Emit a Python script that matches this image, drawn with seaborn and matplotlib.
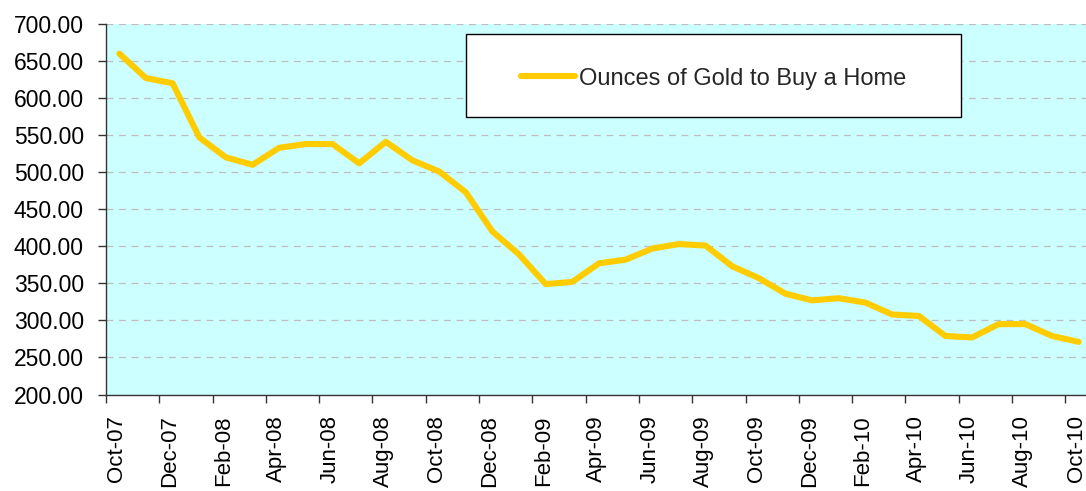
import matplotlib
matplotlib.use("Agg")
import matplotlib.pyplot as plt
import matplotlib.transforms as mtransforms
import seaborn as sns
import pandas as pd
import numpy as np
from matplotlib.patches import Rectangle
from matplotlib.ticker import FixedLocator, FormatStrFormatter

months = ["Oct-07", "Nov-07", "Dec-07", "Jan-08", "Feb-08", "Mar-08", "Apr-08", "May-08",
          "Jun-08", "Jul-08", "Aug-08", "Sep-08", "Oct-08", "Nov-08", "Dec-08", "Jan-09",
          "Feb-09", "Mar-09", "Apr-09", "May-09", "Jun-09", "Jul-09", "Aug-09", "Sep-09",
          "Oct-09", "Nov-09", "Dec-09", "Jan-10", "Feb-10", "Mar-10", "Apr-10", "May-10",
          "Jun-10", "Jul-10", "Aug-10", "Sep-10", "Oct-10"]
ounces = [660, 627, 620, 547, 520, 510, 533, 538, 538, 512, 541, 516, 501, 473, 420, 389,
          349, 352, 377, 382, 397, 403, 401, 373, 357, 336, 327, 330, 324, 308, 306, 279,
          277, 295, 295, 279, 271]
series_name = "Ounces of Gold to Buy a Home"
y_ticks = [200, 250, 300, 350, 400, 450, 500, 550, 600, 650, 700]

sns.set_theme(style="white")
plt.rcParams['font.family'] = ['Liberation Sans', 'DejaVu Sans']

df = pd.DataFrame({"pos": np.arange(len(months)), "value": ounces, "month": months})

W, H = 1086, 491
fig = plt.figure(figsize=(W / 100, H / 100), dpi=100)
fig.patch.set_facecolor("white")
left, right, top, bottom = 106, 1092, 24, 394.5
ax = fig.add_axes([left / W, 1 - bottom / H, (right - left) / W, (bottom - top) / H])
ax.set_facecolor("#CCFFFF")

for yv in y_ticks[1:]:
    ax.axhline(yv, color="#BEBEBE", lw=0.9, ls=(0, (5.5, 4.5)), zorder=1)

sns.lineplot(data=df, x="pos", y="value", ax=ax, color="#FFCC00", lw=4.4,
             solid_capstyle="round", solid_joinstyle="round", zorder=3, legend=False)

ax.set_xlim(-0.5, len(months) - 0.5)
ax.set_ylim(200, 700)
ax.set_xlabel("")
ax.set_ylabel("")

ax.yaxis.set_major_locator(FixedLocator(y_ticks))
ax.yaxis.set_major_formatter(FormatStrFormatter("%.2f"))
label_pos = list(range(0, len(months), 2))
ax.set_xticks(label_pos)
ax.set_xticklabels([months[i] for i in label_pos], rotation=90)
ax.xaxis.set_minor_locator(FixedLocator(np.arange(-0.5, len(months), 2)))

ax.tick_params(axis="x", which="major", length=0, pad=15, labelsize=16, colors="black")
ax.tick_params(axis="x", which="minor", length=6, width=1, color="#333333", direction="out", bottom=True)
ax.tick_params(axis="y", which="major", length=6, width=1, color="#333333", direction="out",
               left=True, pad=10, labelsize=16.5, labelcolor="black")

shift = mtransforms.ScaledTranslation(-2.5 / 100, 0, fig.dpi_scale_trans)
for lbl in ax.get_xticklabels():
    lbl.set_transform(lbl.get_transform() + shift)

for s in ["top", "right"]:
    ax.spines[s].set_visible(False)
for s in ["left", "bottom"]:
    ax.spines[s].set_color("#333333")
    ax.spines[s].set_linewidth(1)

# legend box
bx0, bx1, by0, by1 = 466, 961, 34.5, 117
fig.patches.append(Rectangle((bx0 / W + 0.0012, 1 - by1 / H - 0.002), (bx1 - bx0) / W, (by1 - by0) / H,
                             transform=fig.transFigure, facecolor="#808080", edgecolor="none", zorder=4))
fig.patches.append(Rectangle((bx0 / W, 1 - by1 / H), (bx1 - bx0) / W, (by1 - by0) / H,
                             transform=fig.transFigure, facecolor="white", edgecolor="black",
                             lw=1, zorder=5))
handle = plt.Line2D([], [], color="#FFCC00", lw=4.4, solid_capstyle="round")
leg = fig.legend([handle], [series_name], loc="center",
                 bbox_to_anchor=((bx0 + bx1) / 2 / W, 1 - (by0 + by1) / 2 / H - 0.006),
                 frameon=False, fontsize=17, handlelength=2.3, handletextpad=0.15)
leg.set_zorder(6)

fig.savefig("out.png", dpi=100, facecolor="white")
